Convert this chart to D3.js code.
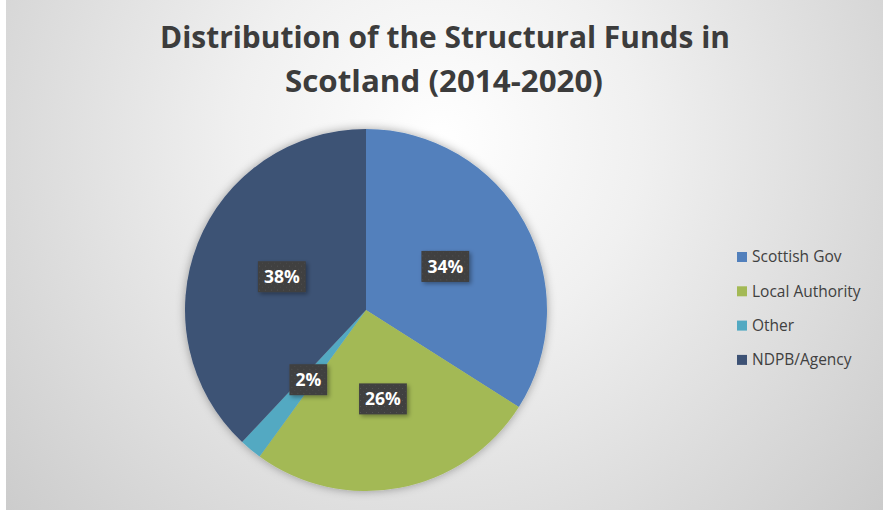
<!DOCTYPE html>
<html><head><meta charset="utf-8">
<script src="https://cdn.jsdelivr.net/npm/d3@7"></script>
<style>html,body{margin:0;padding:0;background:#fff;}svg{display:block;}</style>
</head><body>
<svg id="c" width="883" height="510"></svg>
<script>
const categories = ["Scottish Gov", "Local Authority", "Other", "NDPB/Agency"];
const values = [34, 26, 2, 38];
const colors = ["#5280bc", "#a3b955", "#52a9c2", "#3d5275"];
const titleLines = ["Distribution of the Structural Funds in", "Scotland (2014-2020)"];

const svg = d3.select("#c");
const defs = svg.append("defs");
const bg = defs.append("radialGradient").attr("id","bg")
  .attr("gradientUnits","userSpaceOnUse").attr("cx",440).attr("cy",140).attr("r",580);
bg.append("stop").attr("offset","0").attr("stop-color","#ffffff");
bg.append("stop").attr("offset","0.35").attr("stop-color","#f0f0f0");
bg.append("stop").attr("offset","1").attr("stop-color","#cbcbcb");

const pat = defs.append("pattern").attr("id","dots").attr("patternUnits","userSpaceOnUse")
  .attr("width",6).attr("height",6);
pat.append("rect").attr("width",6).attr("height",6).attr("fill","#3f3f3f");
pat.append("rect").attr("x",1).attr("y",1).attr("width",1).attr("height",1).attr("fill","#555");
pat.append("rect").attr("x",4).attr("y",4).attr("width",1).attr("height",1).attr("fill","#4c4c4c");

const sh = defs.append("filter").attr("id","sh").attr("x","-20%").attr("y","-20%").attr("width","140%").attr("height","140%");
sh.append("feDropShadow").attr("dx",0).attr("dy",0).attr("stdDeviation",5).attr("flood-color","#000").attr("flood-opacity",0.35);
const sh2 = defs.append("filter").attr("id","sh2").attr("x","-30%").attr("y","-30%").attr("width","160%").attr("height","160%");
sh2.append("feDropShadow").attr("dx",2).attr("dy",2).attr("stdDeviation",2).attr("flood-color","#000").attr("flood-opacity",0.35);

svg.append("rect").attr("x",6).attr("y",0).attr("width",877).attr("height",510).attr("fill","url(#bg)");

// title
const tw = [570, 318];
const tx = [160, 285];
titleLines.forEach((t,i)=>{
  svg.append("text").attr("x",tx[i]).attr("y",48+i*44)
    .attr("textLength",tw[i]).attr("lengthAdjust","spacingAndGlyphs")
    .attr("font-family","'Open Sans', sans-serif").attr("font-weight","bold")
    .attr("font-size",31).attr("fill","#3c3c3c").text(t);
});

// pie
const cx = 366, cy = 310, R = 181;
const pie = d3.pie().sort(null).value(d=>d);
const arcs = pie(values);
const arc = d3.arc().innerRadius(0).outerRadius(R);
const labelArc = d3.arc().innerRadius(R*0.5).outerRadius(R*0.5);
const g = svg.append("g").attr("transform",`translate(${cx},${cy})`);
g.append("g").attr("filter","url(#sh)").selectAll("path").data(arcs).join("path")
  .attr("d",arc).attr("fill",(d,i)=>colors[i]);

const lg = g.selectAll("g.lbl").data(arcs).join("g").attr("class","lbl")
  .attr("transform",d=>`translate(${labelArc.centroid(d)})`);
lg.each(function(d){
  const s = d3.select(this);
  const r = s.append("rect").attr("fill","url(#dots)").attr("filter","url(#sh2)");
  const t = s.append("text").attr("text-anchor","middle").attr("dy","0.36em")
    .attr("font-family","'Open Sans', sans-serif").attr("font-weight","bold")
    .attr("font-size",17.5).attr("fill","#fff").text(d3.format(".0%")(d.value/d3.sum(values)));
  const w = t.node().getComputedTextLength();
  r.attr("x",-w/2-6).attr("y",-15.5).attr("width",w+12).attr("height",31);
});

// legend
const leg = svg.append("g").attr("transform","translate(737,257)");
const li = leg.selectAll("g").data(categories).join("g").attr("transform",(d,i)=>`translate(0,${i*34.3})`);
li.append("rect").attr("x",0).attr("y",-5).attr("width",10).attr("height",10).attr("fill",(d,i)=>colors[i]);
li.append("text").attr("x",15).attr("dy","0.35em")
  .attr("font-family","'Open Sans', sans-serif").attr("font-size",15.5).attr("fill","#404040").text(d=>d);
</script>
</body></html>
